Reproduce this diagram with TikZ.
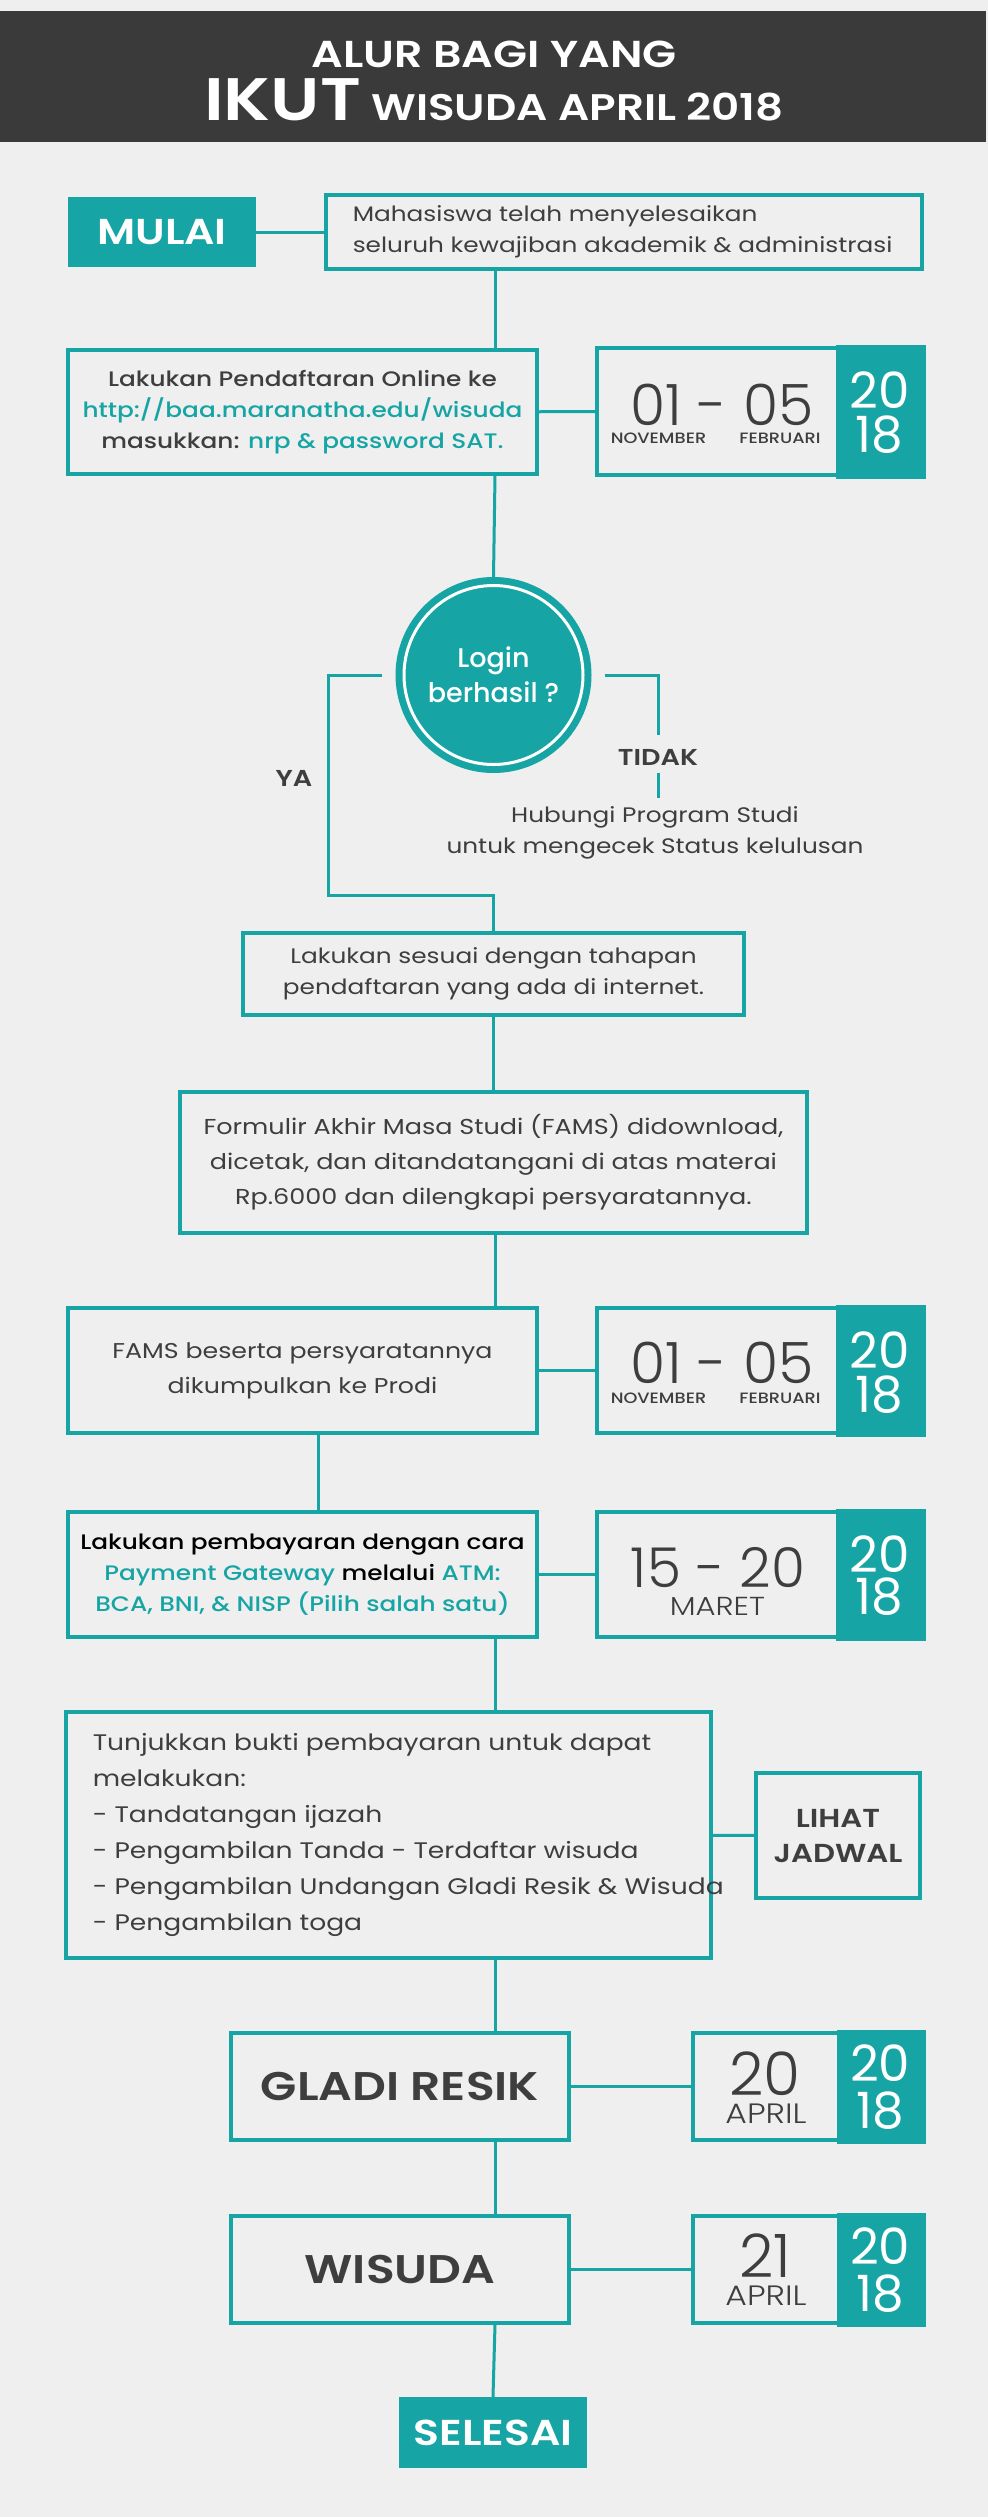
\documentclass[tikz,border=0pt]{standalone}
\usepackage{fontspec}
\setmainfont{Poppins}[FakeStretch=1.18]
\newfontfamily\angka{Poppins}
\newfontfamily\tipis{Poppins Light}
\newfontfamily\tipisluas{Poppins Light}[FakeStretch=1.18]
\newfontfamily\sedang{Poppins Medium}[FakeStretch=1.18]
\newfontfamily\sedangsempit{Poppins Medium}
\newfontfamily\tebal{Poppins SemiBold}[FakeStretch=1.18]
\definecolor{tosca}{RGB}{22,165,164}
\definecolor{latar}{RGB}{239,239,239}
\definecolor{gelap}{RGB}{58,58,58}
\definecolor{teks}{RGB}{62,62,62}
\newcommand{\ukuran}[2]{\fontsize{#1}{#2}\selectfont}

\tikzset{
  kotak/.style={draw=tosca, line width=3.5pt, inner sep=0pt, text=teks, align=center},
  kotakisi/.style={fill=tosca, text=white, inner sep=0pt, font=\tebal\ukuran{36}{36}},
  garis/.style={draw=tosca, line width=3pt},
  biasa/.style={font=\ukuran{21}{31}},
  hari/.style={anchor=base, text=teks, inner sep=0pt, font=\tipis\ukuran{57}{57}},
  bulan/.style={anchor=base, text=teks, inner sep=0pt, font=\sedang\ukuran{15}{15}},
  tahun/.style={text=white, align=center, inner sep=0pt, font=\angka\ukuran{50}{44}},
  label/.style={text=teks, inner sep=0pt, font=\tebal\ukuran{23}{23}}
}

\begin{document}
\begin{tikzpicture}[x=1pt,y=-1pt]

\fill[latar] (0,0) rectangle (988,2517);
\useasboundingbox (0,0) rectangle (988,2517);
\coordinate (poros) at (495,0);
\coordinate (poros2) at (318,0);

%judul
\fill[gelap] (0,11) rectangle (986,142);
\node[anchor=base, text=white, font=\tebal\ukuran{37.5}{37.5}] (judul1) at (494,67) {ALUR BAGI YANG};
\node[anchor=base, text=white, font=\tebal\ukuran{37}{37}] (judul2) at (494,120) {{\ukuran{60}{60}IKUT} WISUDA APRIL 2018};

%mulai
\node[kotakisi, minimum width=188pt, minimum height=70pt] (mulai) at (162,232) {MULAI};
\node[kotak, minimum width=596pt, minimum height=74pt] (syarat) at (624,232) {};
\node[anchor=west, align=left, text=teks, biasa] (syaratteks) at ([xshift=25pt]syarat.west) {Mahasiswa telah menyelesaikan\\seluruh kewajiban akademik \& administrasi};
\draw[garis] (mulai) -- (syarat);

%daftar online
\node[kotak, minimum width=469pt, minimum height=124pt, font=\sedang\ukuran{21}{31}] (daftar) at (302.5,412) {Lakukan Pendaftaran Online ke\\\textcolor{tosca}{http://baa.maranatha.edu/wisuda}\\masukkan: \textcolor{tosca}{nrp \& password SAT.}};
\draw[garis] (syarat.south -| poros) -- (daftar.north -| poros);

%tanggal 1
\node[kotak, minimum width=325pt, minimum height=127pt] (tgl1) at (759.5,411.5) {};
\fill[tosca] ([xshift=-88pt,yshift=1.75pt]tgl1.north east) rectangle ([xshift=1.75pt,yshift=-1.75pt]tgl1.south east);
\node[tahun] (thn1) at ([xshift=-44pt,yshift=-1pt]tgl1.east) {20\\18};
\node[hari] (hari1) at (722,425) {01 - 05};
\node[bulan] (bln1a) at (658.5,443) {NOVEMBER};
\node[bulan] (bln1b) at (780,443) {FEBRUARI};
\draw[garis] (daftar) -- (tgl1);

%login
\node[circle, fill=tosca, minimum size=196pt, inner sep=0pt, text=white, align=center, font=\sedangsempit\ukuran{27}{35}] (login) at (493.5,675) {Login\\berhasil ?};
\node[circle, draw=white, line width=3pt, minimum size=179pt] (cincin) at (login) {};
\draw[garis] (daftar.south -| poros) -- (login.north);

%tidak
\node[label] (tidak) at (658,757.5) {TIDAK};
\coordinate (tidakend) at (658,798);
\draw[garis] ([xshift=13pt]login.east) -| ([yshift=14pt]tidak.north);
\draw[garis] ([yshift=-7pt]tidak.south) -- (tidakend);
\node[text=teks, align=center, biasa] (hubungi) at (655,833) {Hubungi Program Studi\\untuk mengecek Status kelulusan};

%sesuai tahapan
\node[kotak, minimum width=501pt, minimum height=82pt, biasa] (sesuai) at (493.5,974) {Lakukan sesuai dengan tahapan\\pendaftaran yang ada di internet.};

%ya
\node[label] (ya) at (294,778) {YA};
\coordinate (yabawah) at (328,895);
\draw[garis] ([xshift=-13pt]login.west) -| (yabawah) -| (sesuai.north);

%formulir
\node[kotak, minimum width=627pt, minimum height=141pt, font=\ukuran{21.6}{35}] (fams) at (493.5,1162.5) {Formulir Akhir Masa Studi (FAMS) didownload,\\dicetak, dan ditandatangani di atas materai\\Rp.6000 dan dilengkapi persyaratannya.};
\draw[garis] (sesuai) -- (fams);

%kumpul ke prodi
\node[kotak, minimum width=469pt, minimum height=125pt, font=\ukuran{21.4}{35}] (kumpul) at (302.5,1370.5) {FAMS beserta persyaratannya\\dikumpulkan ke Prodi};
\draw[garis] (fams.south -| poros) -- (kumpul.north -| poros);

%tanggal 2
\node[kotak, minimum width=325pt, minimum height=125pt] (tgl2) at (759.5,1370.5) {};
\fill[tosca] ([xshift=-88pt,yshift=1.75pt]tgl2.north east) rectangle ([xshift=1.75pt,yshift=-1.75pt]tgl2.south east);
\node[tahun] (thn2) at ([xshift=-44pt,yshift=-2pt]tgl2.east) {20\\18};
\node[hari] (hari2) at (722,1383) {01 - 05};
\node[bulan] (bln2a) at (658.5,1403) {NOVEMBER};
\node[bulan] (bln2b) at (780,1403) {FEBRUARI};
\draw[garis] (kumpul) -- (tgl2);

%pembayaran
\node[kotak, minimum width=469pt, minimum height=125pt, font=\sedang\ukuran{21}{31}] (bayar) at (302.5,1574.5) {\textcolor{black}{Lakukan pembayaran dengan cara}\\\textcolor{tosca}{Payment Gateway} \textcolor{black}{melalui} \textcolor{tosca}{ATM:}\\\textcolor{tosca}{BCA, BNI, \& NISP (Pilih salah satu)}};
\draw[garis] (kumpul.south -| poros2) -- (bayar.north -| poros2);

%tanggal 3
\node[kotak, minimum width=325pt, minimum height=125pt] (tgl3) at (759.5,1574.5) {};
\fill[tosca] ([xshift=-88pt,yshift=1.75pt]tgl3.north east) rectangle ([xshift=1.75pt,yshift=-1.75pt]tgl3.south east);
\node[tahun, font=\angka\ukuran{50}{42}] (thn3) at ([xshift=-44pt,yshift=-1pt]tgl3.east) {20\\18};
\node[hari, font=\tipis\ukuran{55}{55}] (hari3) at (718,1587) {15 - 20};
\node[bulan, font=\tipisluas\ukuran{26}{26}] (bln3) at (717.5,1615) {MARET};
\draw[garis] (bayar) -- (tgl3);

%bukti pembayaran
\node[kotak, minimum width=645pt, minimum height=246pt] (bukti) at (388.5,1835) {};
\node[anchor=west, align=left, text=teks, font=\ukuran{22.5}{36}] (buktiteks) at ([xshift=25pt]bukti.west) {Tunjukkan bukti pembayaran untuk dapat\\melakukan:\\- Tandatangan ijazah\\- Pengambilan Tanda - Terdaftar wisuda\\- Pengambilan Undangan Gladi Resik \& Wisuda\\- Pengambilan toga};
\draw[garis] (bayar.south -| poros) -- (bukti.north -| poros);

\node[kotak, minimum width=164pt, minimum height=125pt, font=\tebal\ukuran{26}{35}] (lihat) at (838,1835.5) {LIHAT\\JADWAL};
\draw[garis] (bukti) -- (lihat);

%gladi resik
\node[kotak, minimum width=338pt, minimum height=107pt, font=\tebal\ukuran{40}{40}] (gladi) at (400,2086.5) {GLADI RESIK};
\draw[garis] (bukti.south -| poros) -- (gladi.north -| poros);
\node[kotak, minimum width=229pt, minimum height=107pt] (tgl4) at (807.5,2086.5) {};
\fill[tosca] ([xshift=-87pt,yshift=1.75pt]tgl4.north east) rectangle ([xshift=1.75pt,yshift=-1.75pt]tgl4.south east);
\node[tahun, font=\angka\ukuran{50}{47}] (thn4) at ([xshift=-43.5pt,yshift=-1pt]tgl4.east) {20\\18};
\node[hari, font=\tipis\ukuran{60}{60}] (hari4) at (765,2095) {20};
\node[bulan, font=\tipisluas\ukuran{28}{28}] (bln4) at (766,2123) {APRIL};
\draw[garis] (gladi) -- (tgl4);

%wisuda
\node[kotak, minimum width=338pt, minimum height=107pt, font=\tebal\ukuran{40}{40}] (wisuda) at (400,2269.5) {WISUDA};
\draw[garis] (gladi.south -| poros) -- (wisuda.north -| poros);
\node[kotak, minimum width=229pt, minimum height=107pt] (tgl5) at (807.5,2269.5) {};
\fill[tosca] ([xshift=-87pt,yshift=1.75pt]tgl5.north east) rectangle ([xshift=1.75pt,yshift=-1.75pt]tgl5.south east);
\node[tahun, font=\angka\ukuran{50}{47}] (thn5) at ([xshift=-43.5pt,yshift=-1pt]tgl5.east) {20\\18};
\node[hari, font=\tipis\ukuran{60}{60}] (hari5) at (765,2277) {21};
\node[bulan, font=\tipisluas\ukuran{28}{28}] (bln5) at (766,2305) {APRIL};
\draw[garis] (wisuda) -- (tgl5);

%selesai
\node[kotakisi, minimum width=188pt, minimum height=71pt] (selesai) at (493,2432.5) {SELESAI};
\draw[garis] (wisuda.south -| poros) -- (selesai.north);

\end{tikzpicture}
\end{document}
